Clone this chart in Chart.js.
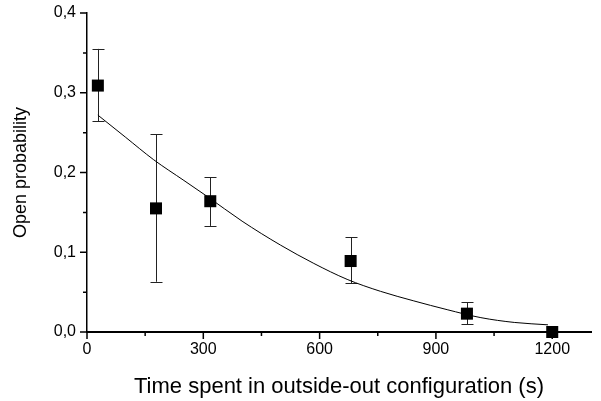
<!DOCTYPE html>
<html>
<head>
<meta charset="utf-8">
<script src="https://cdn.jsdelivr.net/npm/chart.js@4"></script>
<style>
  html, body { margin: 0; padding: 0; background: #fff; }
  canvas { display: block; }
</style>
</head>
<body>
<canvas id="chart" width="601" height="401"></canvas>
<script>
// measured open probability vs time in outside-out (s)
const timeS = [28, 178, 318, 680, 980, 1200];
const openProb = [0.309, 0.155, 0.164, 0.089, 0.023, 0.0];
const errHigh = [0.355, 0.248, 0.194, 0.119, 0.037, null];
const errLow = [0.264, 0.063, 0.133, 0.061, 0.0096, null];

// fitted curve
const fitX = [28, 100, 172, 250, 310, 400, 499, 585, 671, 757, 843, 929, 1016, 1102, 1189];
const fitY = [0.272, 0.244, 0.216, 0.190, 0.170, 0.139, 0.109, 0.086, 0.066, 0.051, 0.039, 0.028, 0.018, 0.012, 0.009];

// axis ticks
const xTicks = [0, 300, 600, 900, 1200];
const xMinor = [150, 450, 750, 1050];
const yTicks = [0, 0.1, 0.2, 0.3, 0.4];
const yMinor = [0.05, 0.15, 0.25, 0.35];

const FONT = '"Liberation Sans", Arial, Helvetica, sans-serif';

// vertical error bars with caps, under the markers
const errorBars = {
  id: 'errorBars',
  beforeDatasetsDraw(chart) {
    const { ctx, scales: { x, y } } = chart;
    ctx.save();
    ctx.strokeStyle = '#222';
    ctx.lineWidth = 1;
    for (let i = 0; i < timeS.length; i++) {
      if (errHigh[i] == null) continue;
      const px = Math.round(x.getPixelForValue(timeS[i])) + 0.5;
      const top = y.getPixelForValue(errHigh[i]);
      const bot = y.getPixelForValue(errLow[i]);
      ctx.beginPath();
      ctx.moveTo(px, top);
      ctx.lineTo(px, bot);
      ctx.moveTo(px - 6, Math.round(top) + 0.5);
      ctx.lineTo(px + 6, Math.round(top) + 0.5);
      ctx.moveTo(px - 6, Math.round(bot) + 0.5);
      ctx.lineTo(px + 6, Math.round(bot) + 0.5);
      ctx.stroke();
    }
    ctx.restore();
  }
};

// outward major and minor tick marks
const tickMarks = {
  id: 'tickMarks',
  afterDraw(chart) {
    const { ctx, scales: { x, y }, chartArea } = chart;
    ctx.save();
    ctx.strokeStyle = '#000';
    ctx.lineWidth = 1.5;
    ctx.beginPath();
    xTicks.forEach(v => {
      const px = x.getPixelForValue(v);
      ctx.moveTo(px, chartArea.bottom);
      ctx.lineTo(px, chartArea.bottom + 7);
    });
    xMinor.forEach(v => {
      const px = x.getPixelForValue(v);
      ctx.moveTo(px, chartArea.bottom);
      ctx.lineTo(px, chartArea.bottom + 4);
    });
    yTicks.forEach(v => {
      const py = y.getPixelForValue(v);
      ctx.moveTo(chartArea.left, py);
      ctx.lineTo(chartArea.left - 7, py);
    });
    yMinor.forEach(v => {
      const py = y.getPixelForValue(v);
      ctx.moveTo(chartArea.left, py);
      ctx.lineTo(chartArea.left - 4, py);
    });
    ctx.stroke();
    ctx.restore();
  }
};

new Chart(document.getElementById('chart'), {
  type: 'scatter',
  data: {
    datasets: [
      {
        type: 'line',
        data: fitX.map((v, i) => ({ x: v, y: fitY[i] })),
        borderColor: '#000',
        borderWidth: 1,
        pointRadius: 0,
        fill: false,
        cubicInterpolationMode: 'monotone',
        order: 2
      },
      {
        data: timeS.map((v, i) => ({ x: v, y: openProb[i] })),
        pointStyle: 'rect',
        pointRadius: 8.5,
        backgroundColor: '#000',
        borderColor: '#000',
        borderWidth: 0,
        clip: false,
        order: 1
      }
    ]
  },
  options: {
    responsive: false,
    animation: false,
    devicePixelRatio: 1,
    layout: { padding: { top: 13, right: 10, left: 0, bottom: 0 } },
    plugins: {
      legend: { display: false },
      tooltip: { enabled: false }
    },
    scales: {
      x: {
        type: 'linear',
        min: 0,
        max: 1300,
        afterBuildTicks: s => { s.ticks = xTicks.map(v => ({ value: v })); },
        afterFit: s => { s.height = 69; s.paddingLeft = 0; s.paddingRight = 0; },
        grid: { display: false, drawTicks: false },
        border: { display: true, color: '#000', width: 2 },
        ticks: {
          padding: 8,
          color: '#000',
          font: { family: FONT, size: 16 },
          callback: v => String(v)
        },
        title: {
          display: true,
          text: 'Time spent in outside-out configuration (s)',
          color: '#000',
          font: { family: FONT, size: 22 },
          padding: { top: 0, bottom: 1 }
        }
      },
      y: {
        type: 'linear',
        min: 0,
        max: 0.4,
        afterBuildTicks: s => { s.ticks = yTicks.map(v => ({ value: v })); },
        afterFit: s => { s.width = 87; s.paddingTop = 0; s.paddingBottom = 0; },
        grid: { display: false, drawTicks: false },
        border: { display: true, color: '#000', width: 1.5 },
        ticks: {
          padding: 11,
          color: '#000',
          font: { family: FONT, size: 16 },
          callback: v => v.toFixed(1).replace('.', ',')
        },
        title: {
          display: true,
          text: 'Open probability',
          color: '#000',
          font: { family: FONT, size: 18 },
          padding: { top: 10, bottom: 0 }
        }
      }
    }
  },
  plugins: [errorBars, tickMarks]
});
</script>
</body>
</html>
